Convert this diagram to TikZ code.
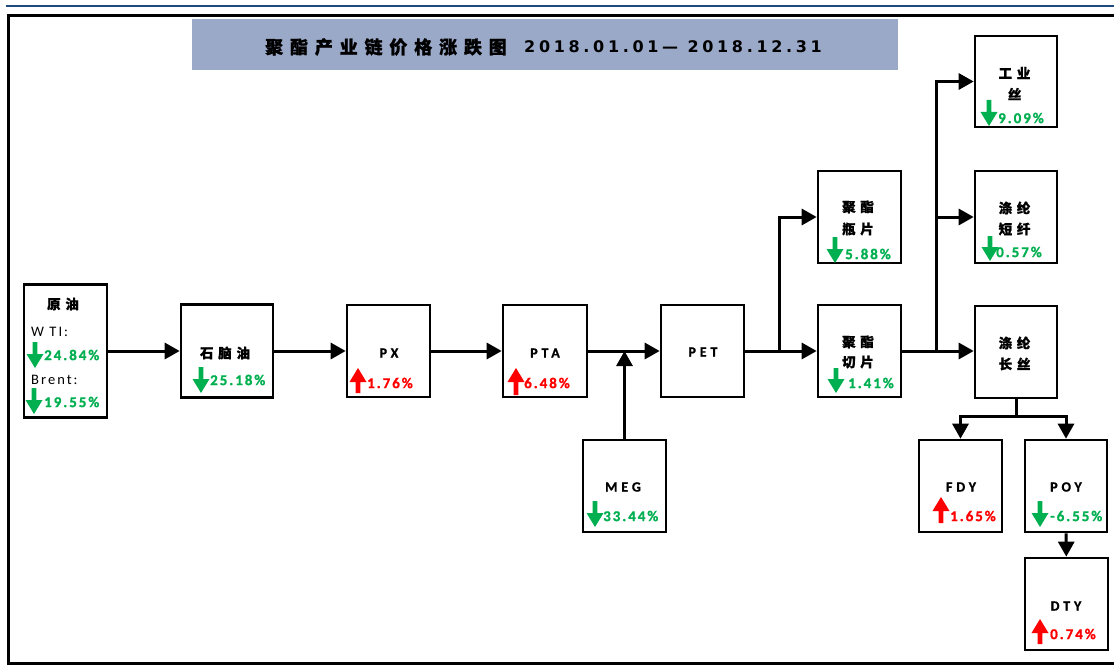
\documentclass[tikz,border=0pt]{standalone}
\usepackage{fontspec}
\usetikzlibrary{arrows.meta}
\setmainfont{Carlito}
\newfontfamily\pctfont[LetterSpace=13,FakeBold=1]{Carlito}
\newfontfamily\labfont[LetterSpace=28,FakeBold=1]{Carlito}
\newfontfamily\regfont[LetterSpace=14]{Carlito}
\newfontfamily\cjkfont[LetterSpace=35,FakeBold=1]{Noto Sans CJK SC}
\newfontfamily\titlecjk[LetterSpace=38,FakeBold=1]{Noto Sans CJK SC}
\newfontfamily\titlenum[LetterSpace=23]{DejaVu Sans}
\definecolor{upgreen}{RGB}{0,176,80}
\definecolor{upred}{RGB}{255,0,0}
\definecolor{band}{RGB}{155,169,201}
\definecolor{topblue}{RGB}{31,73,125}
\newcommand\gdn[3]{\fill[upgreen] (#1-2.3,#2) -- (#1+2.3,#2) -- (#1+2.3,#3-14) -- (#1+8.5,#3-14) -- (#1,#3) -- (#1-8.5,#3-14) -- (#1-2.3,#3-14) -- cycle;}
\newcommand\rup[3]{\fill[upred] (#1-2.3,#3) -- (#1+2.3,#3) -- (#1+2.3,#2+14) -- (#1+8.5,#2+14) -- (#1,#2) -- (#1-8.5,#2+14) -- (#1-2.3,#2+14) -- cycle;}
\tikzset{
  box/.style={draw, line width=2.6pt, inner sep=0, minimum width=83pt, minimum height=92pt},
  conn/.style={line width=3pt, -{Triangle[length=15pt,width=16pt]}},
  ln/.style={line width=3pt},
  pct/.style={anchor=west, inner sep=0, font=\pctfont\bfseries\fontsize{15}{17}\selectfont},
  gpct/.style={pct, text=upgreen},
  rpct/.style={pct, text=upred},
  lab/.style={inner sep=0, font=\labfont\bfseries\fontsize{14}{16}\selectfont},
  reg/.style={anchor=west, inner sep=0, font=\regfont\fontsize{14.5}{16}\selectfont},
  cj/.style={inner sep=0, font=\cjkfont\bfseries\fontsize{13.5}{15}\selectfont},
}
\begin{document}
\begin{tikzpicture}[x=1pt,y=-1pt]
\useasboundingbox (0,0) rectangle (1114,666);
\clip (0,0) rectangle (1114,666);
\fill[white] (0,0) rectangle (1114,666);
% top rule and frame
\draw[topblue, line width=2.5pt] (6,6) -- (1120,6);
\draw[line width=3pt] (8,16) rectangle (1130,663);
% title band
\fill[band] (192,19) rectangle (898,70);
\node[anchor=west, inner sep=0, font=\titlecjk\bfseries\fontsize{18}{20}\selectfont] (title1) at (265,47) {聚酯产业链价格涨跌图};
\node[anchor=west, inner sep=0, font=\titlenum\bfseries\fontsize{16}{18}\selectfont] (title2) at (524,47) {2018.01.01— 2018.12.31};
% boxes
\node[box, minimum height=133pt] (oil) at (65.5,351) {};
\node[box, minimum width=92pt, minimum height=93pt] (nap) at (227,351) {};
\node[box] (px) at (388.5,351) {};
\node[box, minimum width=84pt] (pta) at (545,351) {};
\node[box] (meg) at (624.5,486) {};
\node[box] (pet) at (702.5,351) {};
\node[box] (bottle) at (859.5,217) {};
\node[box] (chip) at (859.5,351) {};
\node[box, minimum width=82pt, minimum height=91pt] (ind) at (1016,81.5) {};
\node[box, minimum width=82pt] (psf) at (1016,217) {};
\node[box, minimum width=82pt] (pfy) at (1016,352) {};
\node[box] (fdy) at (960.5,486) {};
\node[box, minimum width=82pt] (poy) at (1066,486) {};
\node[box] (dty) at (1066.5,604) {};
% connectors
\draw[conn] (oil) -- (nap);
\draw[conn] (nap) -- (px);
\draw[conn] (px) -- (pta);
\draw[conn] (pta) -- (pet);
\draw[conn] (meg.north) -- (meg.north |- pta.east);
\draw[conn] (pet) -- (chip);
\coordinate (j1) at (779,351);
\draw[conn] (j1) |- (bottle);
\draw[conn] (chip.east) -- (chip.east -| pfy.west);
\coordinate (j2) at (936,351);
\draw[ln] (j2) -- (936,83);
\draw[conn] (j2) |- (ind);
\draw[conn] (j2) |- (psf);
\draw[ln] (pfy.south) -- ++(0,17) coordinate (j3);
\draw[conn] (j3) -| (fdy);
\draw[conn] (j3) -| (poy);
\draw[conn] (poy) -- (dty);
% oil box content
\node[cj] (t1) at (63,304) {原油};
\node[reg] (t2) at (31,332) {W TI:};
\gdn{35}{342}{368}
\node[gpct] (t3) at (44,355) {24.84\%};
\node[reg] (t4) at (31,380) {Brent:};
\gdn{34}{388}{414}
\node[gpct] (t5) at (44,402) {19.55\%};
% naphtha
\node[cj] (t6) at (225,353) {石脑油};
\gdn{201}{367}{393}
\node[gpct] (t7) at (210,380) {25.18\%};
% PX
\node[lab] (t8) at (389,353) {PX};
\rup{358}{368}{393}
\node[rpct] (t9) at (367,383) {1.76\%};
% PTA
\node[lab] (t10) at (545,353) {PTA};
\rup{516}{368}{395}
\node[rpct] (t11) at (524,383) {6.48\%};
% MEG
\node[lab] (t12) at (623,487) {MEG};
\gdn{595}{501}{527}
\node[gpct] (t13) at (603,516) {33.44\%};
% PET
\node[lab] (t14) at (703,352) {PET};
% bottle chips
\node[cj] (t15) at (858,207) {聚酯};
\node[cj] (t16) at (858,229) {瓶片};
\gdn{835}{237}{263}
\node[gpct] (t17) at (845,254) {5.88\%};
% chips
\node[cj] (t18) at (858,342) {聚酯};
\node[cj] (t19) at (858,362) {切片};
\gdn{836}{368}{393}
\node[gpct] (t20) at (848,383) {1.41\%};
% industrial yarn
\node[cj] (t21) at (1014.5,73) {工业};
\node[cj] (t22) at (1014.5,94) {丝};
\gdn{989}{100}{126}
\node[gpct] (t23) at (998,118) {9.09\%};
% PSF
\node[cj] (t24) at (1014.5,208) {涤纶};
\node[cj] (t25) at (1014.5,229) {短纤};
\gdn{990}{236}{261}
\node[gpct] (t26) at (996,252) {0.57\%};
% PFY
\node[cj] (t27) at (1014.5,343) {涤纶};
\node[cj] (t28) at (1014.5,364) {长丝};
% FDY
\node[lab] (t29) at (961,487) {FDY};
\rup{941}{497}{523}
\node[rpct] (t30) at (950,516) {1.65\%};
% POY
\node[lab] (t31) at (1066,487) {POY};
\gdn{1040}{501}{527}
\node[gpct] (t32) at (1050,516) {-6.55\%};
% DTY
\node[lab] (t33) at (1066,606) {DTY};
\rup{1040}{619}{644}
\node[rpct] (t34) at (1050,634) {0.74\%};
\end{tikzpicture}
\end{document}
